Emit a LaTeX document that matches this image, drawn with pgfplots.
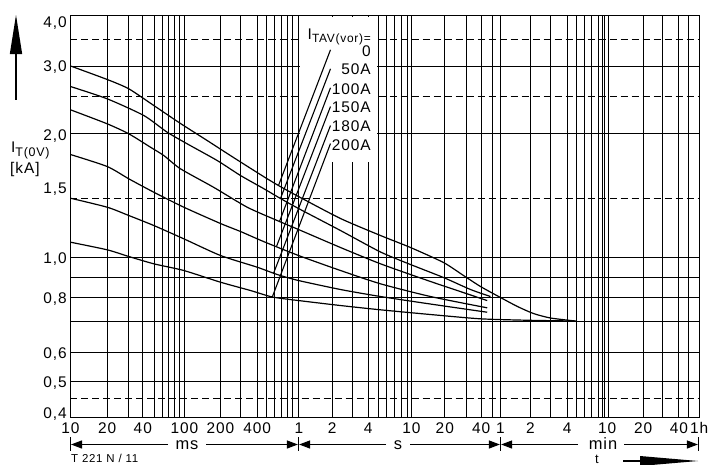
\documentclass[border=0pt]{standalone}
\usepackage{fontspec}
\setmainfont{Liberation Sans}[LetterSpace=6]
\usepackage{pgfplots}
\pgfplotsset{compat=1.18}
\usetikzlibrary{arrows.meta}
\newcommand{\fnum}{\fontsize{15.5}{16}\selectfont}
\newcommand{\fsub}{\fontsize{12.5}{13}\selectfont}
\newcommand{\funit}{\fontsize{16.5}{18}\selectfont}
\begin{document}
\begin{tikzpicture}
\useasboundingbox (0,0) rectangle (711bp,-465bp);
\begin{axis}[
  at={(70.5bp,-417.5bp)}, anchor=south west,
  width=628.7bp, height=402bp, scale only axis,
  xmode=log, ymode=log,
  xmin=0.01, xmax=3600, ymin=0.4, ymax=4,
  axis line style={line width=1.2bp},
  major tick length=0pt, minor tick length=0pt,
  xtick={0.01,0.0211,0.04355,0.1017,0.2117,0.4467,1.0416,2.055,4.276,10.32,20.32,42.63,63.15,116.3,245.3,553.7,1152,2377,3600},
  xticklabels={10,20,40,100,200,400,1,2,4,10,20,40,1,2,4,10,20,40,1h},
  ytick={0.4104,0.4895,0.5788,0.7925,0.998,1.4893,2.016,2.996,3.857},
  yticklabels={{0,4},{0,5},{0,6},{0,8},{1,0},{1,5},{2,0},{3,0},{4,0}},
  xmajorgrids=false, ymajorgrids=false,
  extra x ticks={0.01,0.0211,0.03275,0.04355,0.05559,0.06541,0.07393,0.08301,0.09247,0.1017,0.2117,0.318,0.4467,0.5398,0.6352,0.7279,0.8226,0.922,1.0416,2.055,3.125,4.276,5.241,6.206,7.303,8.421,9.456,10.32,20.32,31.61,42.63,53.98,63.15,116.3,174.7,245.3,296.4,351.1,399.7,461,500.2,524.1,571.9,1152,1716,2377,2913,3600},
  extra x tick labels={},
  extra x tick style={grid=major},
  extra y ticks={2.9921,2.0313,0.99843,0.89037,0.794,0.69322,0.58148,0.4915},
  extra y tick labels={},
  extra y tick style={grid=major},
  minor ytick={0.44676,1.4046,2.5194,3.4796},
  yminorgrids=true,
  major grid style={black, line width=1.2bp},
  minor grid style={black, line width=1.2bp, dash pattern=on 7bp off 4bp},
  xticklabel style={font=\fnum, anchor=north, inner sep=0pt, yshift=-5bp},
  yticklabel style={font=\fnum, anchor=base east, inner sep=0pt, xshift=-3.5bp, yshift=-5.5bp},
  clip=false,
]
% blank area behind the legend
\fill[white] (axis cs:1.067,1.7258) rectangle (axis cs:5.115,3.977);

% I_TAV(vor) = 0
\addplot[black, line width=1.2bp, smooth, tension=0.4] coordinates {
(0.01,2.996) (0.02110,2.7727) (0.03275,2.6285) (0.05448,2.3888) (0.09380,2.1549) (0.16150,1.9548) (0.27582,1.7735) (0.50781,1.5906) (0.68885,1.5107) (1.0352,1.4184) (2.4332,1.2505) (5.4935,1.1344) (10.113,1.0591) (19.792,0.9719) (29.737,0.9022) (42.020,0.8471) (63.134,0.7954) (89.237,0.7554) (123.57,0.7257) (174.67,0.7073) (290.49,0.6952)};
% 50 A
\addplot[black, line width=1.2bp, smooth, tension=0.4] coordinates {
(0.01,2.6634) (0.02110,2.4822) (0.04444,2.2558) (0.07154,2.0500) (0.10748,1.9183) (0.19792,1.7433) (0.31800,1.5998) (0.50781,1.4849) (0.71752,1.4023) (1.0352,1.3243) (2.4332,1.1674) (5.4935,1.0322) (10.113,0.96086) (19.792,0.89191) (34.287,0.83266) (51.508,0.79995)};
% 100 A
\addplot[black, line width=1.2bp, smooth, tension=0.4] coordinates {
(0.01,2.3307) (0.02110,2.1511) (0.03275,2.0313) (0.05094,1.8813) (0.06676,1.7939) (0.09380,1.6623) (0.18360,1.4960) (0.36442,1.3341) (0.67087,1.2363) (1.0352,1.1741) (2.4332,1.0591) (5.4935,0.96471) (15.194,0.87170) (48.163,0.78181)};
% 150 A
\addplot[black, line width=1.2bp, smooth, tension=0.4] coordinates {
(0.01,1.8042) (0.02110,1.6844) (0.03275,1.5698) (0.05448,1.4538) (0.10031,1.3341) (0.21166,1.2152) (0.31800,1.1608) (0.50781,1.0962) (1.0352,1.0117) (2.4332,0.92839) (5.4935,0.86030) (15.194,0.79997) (48.163,0.74981)};
% 180 A
\addplot[black, line width=1.2bp, smooth, tension=0.4] coordinates {
(0.01,1.4046) (0.02110,1.3341) (0.03275,1.2722) (0.05448,1.2014) (0.10031,1.1132) (0.21166,1.0117) (0.44670,0.94610) (0.67087,0.90736) (1.0352,0.87672) (2.4332,0.83266) (5.4935,0.79997) (15.194,0.76630) (48.163,0.73114)};
% 200 A
\addplot[black, line width=1.2bp, smooth, tension=0.4] coordinates {
(0.01,1.0918) (0.02110,1.0452) (0.03275,1.0059) (0.05448,0.96471) (0.10031,0.92839) (0.21166,0.86822) (0.38975,0.82790) (0.60984,0.79765) (1.0352,0.78179) (2.4332,0.75975) (5.4935,0.74126) (15.194,0.72158) (42.020,0.70401) (116.26,0.69799) (290.49,0.69520)};

% leader lines to the legend labels
\addplot[black, line width=1.1bp] coordinates {(0.68885,1.5107) (1.9853,3.2865)};
\addplot[black, line width=1.1bp] coordinates {(0.71752,1.4023) (1.9853,2.9476)};
\addplot[black, line width=1.1bp] coordinates {(0.70340,1.2292) (1.9853,2.6437)};
\addplot[black, line width=1.1bp] coordinates {(0.66139,1.0652) (1.9853,2.3751)};
\addplot[black, line width=1.1bp] coordinates {(0.62236,0.91258) (1.9853,2.1303)};
\addplot[black, line width=1.1bp] coordinates {(0.60614,0.79673) (1.9853,1.9216)};
\end{axis}

\begin{scope}[x=1bp,y=-1bp]
% y axis arrow and label
\fill (16,15) -- (22.2,54) -- (9.8,54) -- cycle;
\draw[line width=2bp] (16,53) -- (16,100);
\node[anchor=base west, inner sep=0pt, font=\fnum] at (11,152) {I\raisebox{-4bp}{\fsub T(0V)}};
\node[anchor=base west, inner sep=0pt, font=\fnum] at (10,173.5) {[kA]};
% legend
\node[anchor=base east, inner sep=0pt, font=\fnum] at (371,39.5) {I\raisebox{-2.5bp}{\fontsize{12}{13}\selectfont TAV(vor)=}};
\node[anchor=base east, inner sep=0pt, font=\fnum] at (371,56.5) {0};
\node[anchor=base east, inner sep=0pt, font=\fnum] at (371,74) {50A};
\node[anchor=base east, inner sep=0pt, font=\fnum] at (371,94) {100A};
\node[anchor=base east, inner sep=0pt, font=\fnum] at (371,112.7) {150A};
\node[anchor=base east, inner sep=0pt, font=\fnum] at (371,131) {180A};
\node[anchor=base east, inner sep=0pt, font=\fnum] at (371,150.7) {200A};
% unit ranges
\draw[line width=1.2bp] (70.5,437) -- (70.5,451);
\draw[line width=1.2bp] (298.5,437) -- (298.5,451);
\draw[line width=1.2bp] (500.5,437) -- (500.5,451);
\draw[line width=1.2bp] (698.5,437) -- (698.5,451);
\draw[line width=1.2bp, -{Triangle[length=11bp,width=8bp]}] (168,444.5) -- (71,444.5);
\draw[line width=1.2bp, -{Triangle[length=11bp,width=8bp]}] (206,444.5) -- (297.9,444.5);
\node[anchor=base, inner sep=0pt, font=\funit] at (187,449) {ms};
\draw[line width=1.2bp, -{Triangle[length=11bp,width=8bp]}] (386,444.5) -- (299.1,444.5);
\draw[line width=1.2bp, -{Triangle[length=11bp,width=8bp]}] (410,444.5) -- (499.9,444.5);
\node[anchor=base, inner sep=0pt, font=\funit] at (398,449) {s};
\draw[line width=1.2bp, -{Triangle[length=11bp,width=8bp]}] (578,444.5) -- (501.1,444.5);
\draw[line width=1.2bp, -{Triangle[length=11bp,width=8bp]}] (624,444.5) -- (697.9,444.5);
\node[anchor=base, inner sep=0pt, font=\funit] at (603,449) {min};
% identifier and time arrow
\node[anchor=base west, inner sep=0pt, font=\fontsize{11.5}{12}\selectfont] at (71,462.5) {T 221 N / 11};
\node[anchor=base, inner sep=0pt, font=\fontsize{13}{14}\selectfont] at (597,463) {t};
\draw[line width=1.4bp] (623,461) -- (645,461);
\fill (698,461) -- (640,456) -- (640,466) -- cycle;
\end{scope}
\end{tikzpicture}
\end{document}
